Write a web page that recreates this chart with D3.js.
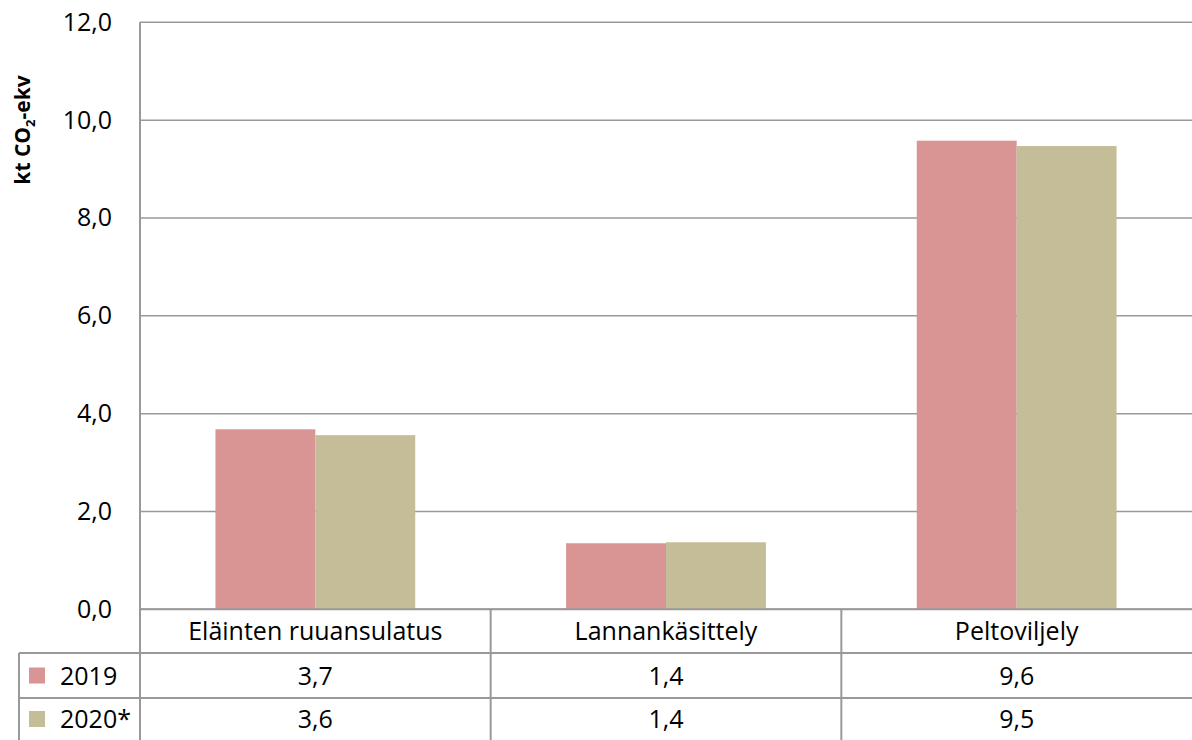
<!DOCTYPE html>
<html><head><meta charset="utf-8">
<script src="https://cdn.jsdelivr.net/npm/d3@7"></script>
<style>body{margin:0;background:#fff}svg{display:block}text{font-family:"Open Sans",Lato,sans-serif;fill:#000}</style>
</head><body><svg id="c" width="1192" height="740"></svg>
<script>
const categories = ["Eläinten ruuansulatus", "Lannankäsittely", "Peltoviljely"];
const seriesNames = ["2019", "2020*"];
const values2019 = [3.68, 1.35, 9.58];
const values2020 = [3.56, 1.37, 9.47];
const tableLabels2019 = ["3,7", "1,4", "9,6"];
const tableLabels2020 = ["3,6", "1,4", "9,5"];
const yTicks = [0, 2, 4, 6, 8, 10, 12];
const colors = ["#d99594", "#c4bd97"];

(function () {
const svg = d3.select("#c");
const pL = 140, pR = 1192, pT = 22.3, pB = 609.3;
const FS = "25px";
const x = d3.scaleBand().domain(categories).range([pL, pR]).padding(0);
const xs = d3.scaleBand().domain(seriesNames).range([0, x.bandwidth()]).paddingOuter(0.755).paddingInner(0);
const y = d3.scaleLinear().domain([0, 12]).range([pB, pT]);
const grid = "#999999";

// gridlines
svg.append("g").selectAll("line").data(yTicks).join("line")
  .attr("x1", pL).attr("x2", pR).attr("y1", d => y(d)).attr("y2", d => y(d))
  .attr("stroke", grid).attr("stroke-width", 1.5);

// y axis labels
const yAxis = d3.axisLeft(y).tickValues(yTicks).tickSize(0).tickPadding(0)
  .tickFormat(d => d3.format(".1f")(d).replace(".", ","));
const ga = svg.append("g").attr("transform", `translate(112,0)`).call(yAxis);
ga.select(".domain").remove();
ga.selectAll("text").style("font-size", FS).style("font-family", "'Open Sans', sans-serif").attr("fill", "#000");

// axis title
const title = svg.append("text").attr("transform", "translate(30,130) rotate(-90)")
  .attr("text-anchor", "middle").style("font-size", "21px").style("font-weight", "bold");
title.append("tspan").text("kt CO");
title.append("tspan").text("2").style("font-size", "13px").attr("dy", 5);
title.append("tspan").text("-ekv").attr("dy", -5);

// bars
const series = [values2019, values2020];
series.forEach((vals, si) => {
  svg.append("g").selectAll("rect").data(categories).join("rect")
    .attr("x", c => x(c) + xs(seriesNames[si]))
    .attr("width", xs.bandwidth())
    .attr("y", (c, i) => y(vals[i]))
    .attr("height", (c, i) => y(0) - y(vals[i]))
    .attr("fill", colors[si]);
});

// table
const row1 = 609.3, row2 = 653, row3 = 698, row4 = 740;
const tg = svg.append("g").attr("stroke", grid).attr("stroke-width", 2);
tg.append("line").attr("x1", pL).attr("x2", pR).attr("y1", row1).attr("y2", row1);
[row2, row3].forEach(r => tg.append("line").attr("x1", 19).attr("x2", pR).attr("y1", r).attr("y2", r));
tg.append("line").attr("x1", pL).attr("x2", pL).attr("y1", pT).attr("y2", row4);
tg.append("line").attr("x1", 19).attr("x2", 19).attr("y1", row2).attr("y2", row4);
categories.slice(1).forEach(c => tg.append("line").attr("x1", x(c)).attr("x2", x(c)).attr("y1", row1).attr("y2", row4));

svg.append("g").selectAll("text").data(categories).join("text")
  .attr("x", c => x(c) + x.bandwidth() / 2).attr("y", (row1 + row2) / 2 + 9)
  .attr("text-anchor", "middle").style("font-size", FS).text(c => c);

[tableLabels2019, tableLabels2020].forEach((labs, si) => {
  const cy = si === 0 ? (row2 + row3) / 2 : (row3 + row4) / 2;
  svg.append("g").selectAll("text").data(categories).join("text")
    .attr("x", c => x(c) + x.bandwidth() / 2).attr("y", cy + 9)
    .attr("text-anchor", "middle").style("font-size", FS).text((c, i) => labs[i]);
  svg.append("rect").attr("x", 29).attr("y", cy - 8).attr("width", 16).attr("height", 16).attr("fill", colors[si]);
  svg.append("text").attr("x", 60).attr("y", cy + 9).style("font-size", FS).text(seriesNames[si]);
});
})();
</script></body></html>
